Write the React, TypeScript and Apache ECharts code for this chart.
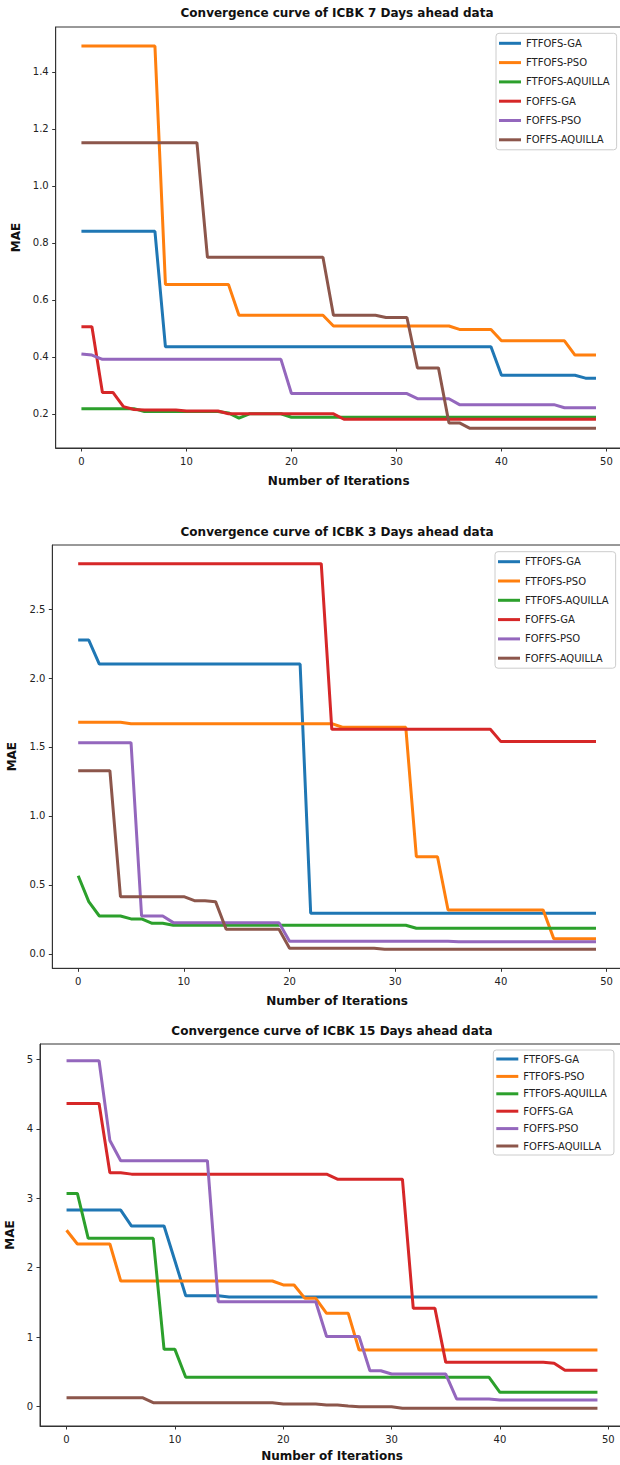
import React, { useEffect, useRef } from "react";
import * as echarts from "echarts";

const ITERATIONS = [
  0, 1, 2, 3, 4, 5, 6, 7, 8, 9, 10, 11, 12, 13, 14, 15, 16, 17, 18, 19, 20, 21, 22, 23, 24,
  25, 26, 27, 28, 29, 30, 31, 32, 33, 34, 35, 36, 37, 38, 39, 40, 41, 42, 43, 44, 45, 46, 47, 48, 49,
];

const SERIES_NAMES = ["FTFOFS-GA", "FTFOFS-PSO", "FTFOFS-AQUILLA", "FOFFS-GA", "FOFFS-PSO", "FOFFS-AQUILLA"];
const COLORS = ["#1f77b4", "#ff7f0e", "#2ca02c", "#d62728", "#9467bd", "#8c564b"];

const TITLES = [
  "Convergence curve of ICBK 7 Days ahead data",
  "Convergence curve of ICBK 3 Days ahead data",
  "Convergence curve of ICBK 15 Days ahead data",
];

const X_TICKS = [0, 10, 20, 30, 40, 50];
const Y_TICKS_7 = [0.2, 0.4, 0.6, 0.8, 1.0, 1.2, 1.4];
const Y_TICKS_3 = [0.0, 0.5, 1.0, 1.5, 2.0, 2.5];
const Y_TICKS_15 = [0, 1, 2, 3, 4, 5];

// ---- 7 days ahead ----
const D7_FTFOFS_GA = [
  0.84, 0.84, 0.84, 0.84, 0.84, 0.84, 0.84, 0.84, 0.435, 0.435,
  0.435, 0.435, 0.435, 0.435, 0.435, 0.435, 0.435, 0.435, 0.435, 0.435,
  0.435, 0.435, 0.435, 0.435, 0.435, 0.435, 0.435, 0.435, 0.435, 0.435,
  0.435, 0.435, 0.435, 0.435, 0.435, 0.435, 0.435, 0.435, 0.435, 0.435,
  0.335, 0.335, 0.335, 0.335, 0.335, 0.335, 0.335, 0.335, 0.325, 0.325,
];
const D7_FTFOFS_PSO = [
  1.49, 1.49, 1.49, 1.49, 1.49, 1.49, 1.49, 1.49, 0.654, 0.654,
  0.654, 0.654, 0.654, 0.654, 0.654, 0.546, 0.546, 0.546, 0.546, 0.546,
  0.546, 0.546, 0.546, 0.546, 0.508, 0.508, 0.508, 0.508, 0.508, 0.508,
  0.508, 0.508, 0.508, 0.508, 0.508, 0.508, 0.496, 0.496, 0.496, 0.496,
  0.456, 0.456, 0.456, 0.456, 0.456, 0.456, 0.456, 0.406, 0.406, 0.406,
];
const D7_FTFOFS_AQUILLA = [
  0.218, 0.218, 0.218, 0.218, 0.218, 0.218, 0.208, 0.208, 0.208, 0.208,
  0.208, 0.208, 0.208, 0.208, 0.203, 0.185, 0.2, 0.2, 0.2, 0.2,
  0.188, 0.188, 0.188, 0.188, 0.188, 0.188, 0.188, 0.188, 0.188, 0.188,
  0.188, 0.188, 0.188, 0.188, 0.188, 0.188, 0.188, 0.188, 0.188, 0.188,
  0.188, 0.188, 0.188, 0.188, 0.188, 0.188, 0.188, 0.188, 0.188, 0.188,
];
const D7_FOFFS_GA = [
  0.505, 0.505, 0.275, 0.275, 0.225, 0.215, 0.213, 0.213, 0.213, 0.213,
  0.21, 0.21, 0.21, 0.21, 0.2, 0.2, 0.2, 0.2, 0.2, 0.2,
  0.2, 0.2, 0.2, 0.2, 0.2, 0.181, 0.181, 0.181, 0.181, 0.181,
  0.181, 0.181, 0.181, 0.181, 0.181, 0.181, 0.181, 0.181, 0.181, 0.181,
  0.181, 0.181, 0.181, 0.181, 0.181, 0.181, 0.181, 0.181, 0.181, 0.181,
];
const D7_FOFFS_PSO = [
  0.41, 0.406, 0.391, 0.391, 0.391, 0.391, 0.391, 0.391, 0.391, 0.391,
  0.391, 0.391, 0.391, 0.391, 0.391, 0.391, 0.391, 0.391, 0.391, 0.391,
  0.271, 0.271, 0.271, 0.271, 0.271, 0.271, 0.271, 0.271, 0.271, 0.271,
  0.271, 0.271, 0.253, 0.253, 0.253, 0.253, 0.232, 0.232, 0.232, 0.232,
  0.232, 0.232, 0.232, 0.232, 0.232, 0.232, 0.221, 0.221, 0.221, 0.221,
];
const D7_FOFFS_AQUILLA = [
  1.151, 1.151, 1.151, 1.151, 1.151, 1.151, 1.151, 1.151, 1.151, 1.151,
  1.151, 1.151, 0.749, 0.749, 0.749, 0.749, 0.749, 0.749, 0.749, 0.749,
  0.749, 0.749, 0.749, 0.749, 0.546, 0.546, 0.546, 0.546, 0.546, 0.538,
  0.538, 0.538, 0.361, 0.361, 0.361, 0.168, 0.168, 0.149, 0.149, 0.149,
  0.149, 0.149, 0.149, 0.149, 0.149, 0.149, 0.149, 0.149, 0.149, 0.149,
];

// ---- 3 days ahead ----
const D3_FTFOFS_GA = [
  2.275, 2.275, 2.101, 2.101, 2.101, 2.101, 2.101, 2.101, 2.101, 2.101,
  2.101, 2.101, 2.101, 2.101, 2.101, 2.101, 2.101, 2.101, 2.101, 2.101,
  2.101, 2.101, 0.295, 0.295, 0.295, 0.295, 0.295, 0.295, 0.295, 0.295,
  0.295, 0.295, 0.295, 0.295, 0.295, 0.295, 0.295, 0.295, 0.295, 0.295,
  0.295, 0.295, 0.295, 0.295, 0.295, 0.295, 0.295, 0.295, 0.295, 0.295,
];
const D3_FTFOFS_PSO = [
  1.679, 1.679, 1.679, 1.679, 1.679, 1.669, 1.669, 1.669, 1.669, 1.669,
  1.669, 1.669, 1.669, 1.669, 1.669, 1.669, 1.669, 1.669, 1.669, 1.669,
  1.669, 1.669, 1.669, 1.669, 1.669, 1.643, 1.643, 1.643, 1.643, 1.643,
  1.643, 1.643, 0.705, 0.705, 0.705, 0.319, 0.319, 0.319, 0.319, 0.319,
  0.319, 0.319, 0.319, 0.319, 0.319, 0.111, 0.111, 0.111, 0.111, 0.111,
];
const D3_FTFOFS_AQUILLA = [
  0.567, 0.379, 0.275, 0.275, 0.275, 0.254, 0.254, 0.222, 0.222, 0.208,
  0.208, 0.208, 0.208, 0.208, 0.208, 0.208, 0.208, 0.208, 0.208, 0.208,
  0.208, 0.208, 0.208, 0.208, 0.208, 0.208, 0.208, 0.208, 0.208, 0.208,
  0.208, 0.208, 0.186, 0.186, 0.186, 0.186, 0.186, 0.186, 0.186, 0.186,
  0.186, 0.186, 0.186, 0.186, 0.186, 0.186, 0.186, 0.186, 0.186, 0.186,
];
const D3_FOFFS_GA = [
  2.829, 2.829, 2.829, 2.829, 2.829, 2.829, 2.829, 2.829, 2.829, 2.829,
  2.829, 2.829, 2.829, 2.829, 2.829, 2.829, 2.829, 2.829, 2.829, 2.829,
  2.829, 2.829, 2.829, 2.829, 1.628, 1.628, 1.628, 1.628, 1.628, 1.628,
  1.628, 1.628, 1.628, 1.628, 1.628, 1.628, 1.628, 1.628, 1.628, 1.628,
  1.539, 1.539, 1.539, 1.539, 1.539, 1.539, 1.539, 1.539, 1.539, 1.539,
];
const D3_FOFFS_PSO = [
  1.531, 1.531, 1.531, 1.531, 1.531, 1.531, 0.275, 0.275, 0.275, 0.227,
  0.227, 0.227, 0.227, 0.227, 0.227, 0.227, 0.227, 0.227, 0.227, 0.227,
  0.092, 0.092, 0.092, 0.092, 0.092, 0.092, 0.092, 0.092, 0.092, 0.092,
  0.092, 0.092, 0.092, 0.092, 0.092, 0.092, 0.088, 0.088, 0.088, 0.088,
  0.088, 0.088, 0.088, 0.088, 0.088, 0.088, 0.088, 0.088, 0.088, 0.088,
];
const D3_FOFFS_AQUILLA = [
  1.328, 1.328, 1.328, 1.328, 0.415, 0.415, 0.415, 0.415, 0.415, 0.415,
  0.415, 0.386, 0.386, 0.379, 0.179, 0.179, 0.179, 0.179, 0.179, 0.179,
  0.041, 0.041, 0.041, 0.041, 0.041, 0.041, 0.041, 0.041, 0.041, 0.034,
  0.034, 0.034, 0.034, 0.034, 0.034, 0.034, 0.034, 0.034, 0.034, 0.034,
  0.034, 0.034, 0.034, 0.034, 0.034, 0.034, 0.034, 0.034, 0.034, 0.034,
];

// ---- 15 days ahead ----
const D15_FTFOFS_GA = [
  2.83, 2.83, 2.83, 2.83, 2.83, 2.83, 2.6, 2.6, 2.6, 2.6,
  2.1, 1.597, 1.597, 1.597, 1.597, 1.58, 1.58, 1.58, 1.58, 1.58,
  1.58, 1.58, 1.58, 1.58, 1.58, 1.58, 1.58, 1.58, 1.58, 1.58,
  1.58, 1.58, 1.58, 1.58, 1.58, 1.58, 1.58, 1.58, 1.58, 1.58,
  1.58, 1.58, 1.58, 1.58, 1.58, 1.58, 1.58, 1.58, 1.58, 1.58,
];
const D15_FTFOFS_PSO = [
  2.54, 2.341, 2.341, 2.341, 2.341, 1.809, 1.809, 1.809, 1.809, 1.809,
  1.809, 1.809, 1.809, 1.809, 1.809, 1.809, 1.809, 1.809, 1.809, 1.809,
  1.752, 1.752, 1.559, 1.559, 1.343, 1.343, 1.343, 0.816, 0.816, 0.816,
  0.816, 0.816, 0.816, 0.816, 0.816, 0.816, 0.816, 0.816, 0.816, 0.816,
  0.816, 0.816, 0.816, 0.816, 0.816, 0.816, 0.816, 0.816, 0.816, 0.816,
];
const D15_FTFOFS_AQUILLA = [
  3.07, 3.07, 2.423, 2.423, 2.423, 2.423, 2.423, 2.423, 2.423, 0.825,
  0.825, 0.423, 0.423, 0.423, 0.423, 0.423, 0.423, 0.423, 0.423, 0.423,
  0.423, 0.423, 0.423, 0.423, 0.423, 0.423, 0.423, 0.423, 0.423, 0.423,
  0.423, 0.423, 0.423, 0.423, 0.423, 0.423, 0.423, 0.423, 0.423, 0.423,
  0.207, 0.207, 0.207, 0.207, 0.207, 0.207, 0.207, 0.207, 0.207, 0.207,
];
const D15_FOFFS_GA = [
  4.365, 4.365, 4.365, 4.365, 3.367, 3.367, 3.347, 3.347, 3.347, 3.347,
  3.347, 3.347, 3.347, 3.347, 3.347, 3.347, 3.347, 3.347, 3.347, 3.347,
  3.347, 3.347, 3.347, 3.347, 3.347, 3.275, 3.275, 3.275, 3.275, 3.275,
  3.275, 3.275, 1.415, 1.415, 1.415, 0.638, 0.638, 0.638, 0.638, 0.638,
  0.638, 0.638, 0.638, 0.638, 0.638, 0.625, 0.523, 0.523, 0.523, 0.523,
];
const D15_FOFFS_PSO = [
  4.98, 4.98, 4.98, 4.98, 3.83, 3.54, 3.54, 3.54, 3.54, 3.54,
  3.54, 3.54, 3.54, 3.54, 1.511, 1.511, 1.511, 1.511, 1.511, 1.511,
  1.511, 1.511, 1.511, 1.511, 1.01, 1.01, 1.01, 1.01, 0.518, 0.518,
  0.47, 0.47, 0.47, 0.47, 0.47, 0.47, 0.111, 0.111, 0.111, 0.111,
  0.097, 0.097, 0.097, 0.097, 0.097, 0.097, 0.097, 0.097, 0.097, 0.097,
];
const D15_FOFFS_AQUILLA = [
  0.13, 0.13, 0.13, 0.13, 0.13, 0.13, 0.13, 0.13, 0.058, 0.058,
  0.058, 0.058, 0.058, 0.058, 0.058, 0.058, 0.058, 0.058, 0.058, 0.058,
  0.038, 0.038, 0.038, 0.038, 0.024, 0.024, 0.01, 0, 0, 0,
  0, -0.024, -0.024, -0.024, -0.024, -0.024, -0.024, -0.024, -0.024, -0.024,
  -0.024, -0.024, -0.024, -0.024, -0.024, -0.024, -0.024, -0.024, -0.024, -0.024,
];

const FONT = "DejaVu Sans";

export default function App() {
  const ref = useRef<HTMLDivElement>(null);

  useEffect(() => {
    if (!ref.current) return;
    const chart = echarts.init(ref.current, null, { renderer: "svg" });

    const panels = [
      {
        data: [D7_FTFOFS_GA, D7_FTFOFS_PSO, D7_FTFOFS_AQUILLA, D7_FOFFS_GA, D7_FOFFS_PSO, D7_FOFFS_AQUILLA],
        grid: { left: 55.7, top: 27, width: 566, height: 421 },
        yMin: 0.08, yMax: 1.557, yTicks: Y_TICKS_7, dec: 1,
        yGap: 28, xGap: 27,
        title: { x: 337, y: 13 },
        legend: { left: 496, top: 33.3, gap: 5.3, pad: [3, 7, 3, 3] },
      },
      {
        data: [D3_FTFOFS_GA, D3_FTFOFS_PSO, D3_FTFOFS_AQUILLA, D3_FOFFS_GA, D3_FOFFS_PSO, D3_FOFFS_AQUILLA],
        grid: { left: 52.3, top: 545, width: 569.6, height: 423.3 },
        yMin: -0.104, yMax: 2.964, yTicks: Y_TICKS_3, dec: 1,
        yGap: 28, xGap: 27,
        title: { x: 337, y: 532 },
        legend: { left: 495, top: 551.7, gap: 5.3, pad: [3, 7, 3, 3] },
      },
      {
        data: [D15_FTFOFS_GA, D15_FTFOFS_PSO, D15_FTFOFS_AQUILLA, D15_FOFFS_GA, D15_FOFFS_PSO, D15_FOFFS_AQUILLA],
        grid: { left: 40, top: 1044, width: 584, height: 382 },
        yMin: -0.278, yMax: 5.22, yTicks: Y_TICKS_15, dec: 0,
        yGap: 19, xGap: 24,
        title: { x: 332, y: 1031 },
        legend: { left: 493.3, top: 1050, gap: 3.4, pad: [2, 7, 2, 3] },
      },
    ];

    const axisColor = "#333";

    const option: any = {
      animation: false,
      textStyle: { fontFamily: FONT },
      grid: panels.map((p) => ({
        ...p.grid,
        containLabel: false,
        outerBoundsMode: "none",
        show: true,
        borderColor: axisColor,
        borderWidth: 1,
        backgroundColor: "transparent",
      })),
      xAxis: panels.map((p, i) => ({
        type: "value",
        gridIndex: i,
        min: -2.45,
        max: 51.45,
        name: "Number of Iterations",
        nameLocation: "middle",
        nameGap: p.xGap,
        nameTextStyle: { fontFamily: FONT, fontWeight: "bold", fontSize: 12, color: "#111", verticalAlign: "top" },
        axisLine: { show: true, onZero: false, lineStyle: { color: axisColor, width: 1 } },
        axisTick: { show: true, length: 3.5, customValues: X_TICKS, lineStyle: { color: axisColor } },
        axisLabel: { customValues: X_TICKS, fontSize: 10, color: "#222", margin: 8, fontFamily: FONT },
        splitLine: { show: false },
      })),
      yAxis: panels.map((p, i) => ({
        type: "value",
        gridIndex: i,
        min: p.yMin,
        max: p.yMax,
        name: "MAE",
        nameLocation: "middle",
        nameGap: p.yGap,
        nameTextStyle: { fontFamily: FONT, fontWeight: "bold", fontSize: 12, color: "#111" },
        axisLine: { show: true, onZero: false, lineStyle: { color: axisColor, width: 1 } },
        axisTick: { show: true, length: 3.5, customValues: p.yTicks, lineStyle: { color: axisColor } },
        axisLabel: {
          customValues: p.yTicks,
          fontSize: 10,
          color: "#222",
          margin: 7,
          fontFamily: FONT,
          formatter: (v: number) => v.toFixed(p.dec),
        },
        splitLine: { show: false },
      })),
      legend: panels.map((p) => ({
        orient: "vertical",
        left: p.legend.left,
        top: p.legend.top,
        itemWidth: 22,
        itemHeight: 3,
        icon: "rect",
        itemGap: p.legend.gap,
        padding: p.legend.pad,
        borderColor: "#cccccc",
        borderWidth: 1,
        borderRadius: 3,
        backgroundColor: "rgba(255,255,255,0.8)",
        selectedMode: false,
        textStyle: { fontSize: 10, color: "#222", lineHeight: 14, fontFamily: FONT },
        data: SERIES_NAMES,
      })),
      graphic: panels.map((p, i) => ({
        type: "text",
        x: p.title.x,
        y: p.title.y,
        style: {
          text: TITLES[i],
          fontFamily: FONT,
          fontSize: 12,
          fontWeight: "bold",
          fill: "#111",
          align: "center",
          verticalAlign: "middle",
          textAlign: "center",
          textVerticalAlign: "middle",
        },
      })),
      series: panels.flatMap((p, i) =>
        p.data.map((vals, j) => ({
          type: "line",
          name: SERIES_NAMES[j],
          xAxisIndex: i,
          yAxisIndex: i,
          showSymbol: false,
          symbol: "none",
          color: COLORS[j],
          lineStyle: { width: 3, color: COLORS[j] },
          data: ITERATIONS.map((it, k) => [it, vals[k]]),
        }))
      ),
    };

    chart.setOption(option);
    return () => chart.dispose();
  }, []);

  return <div ref={ref} style={{ position: "absolute", left: 0, top: 0, width: 620, height: 1465 }} />;
}
